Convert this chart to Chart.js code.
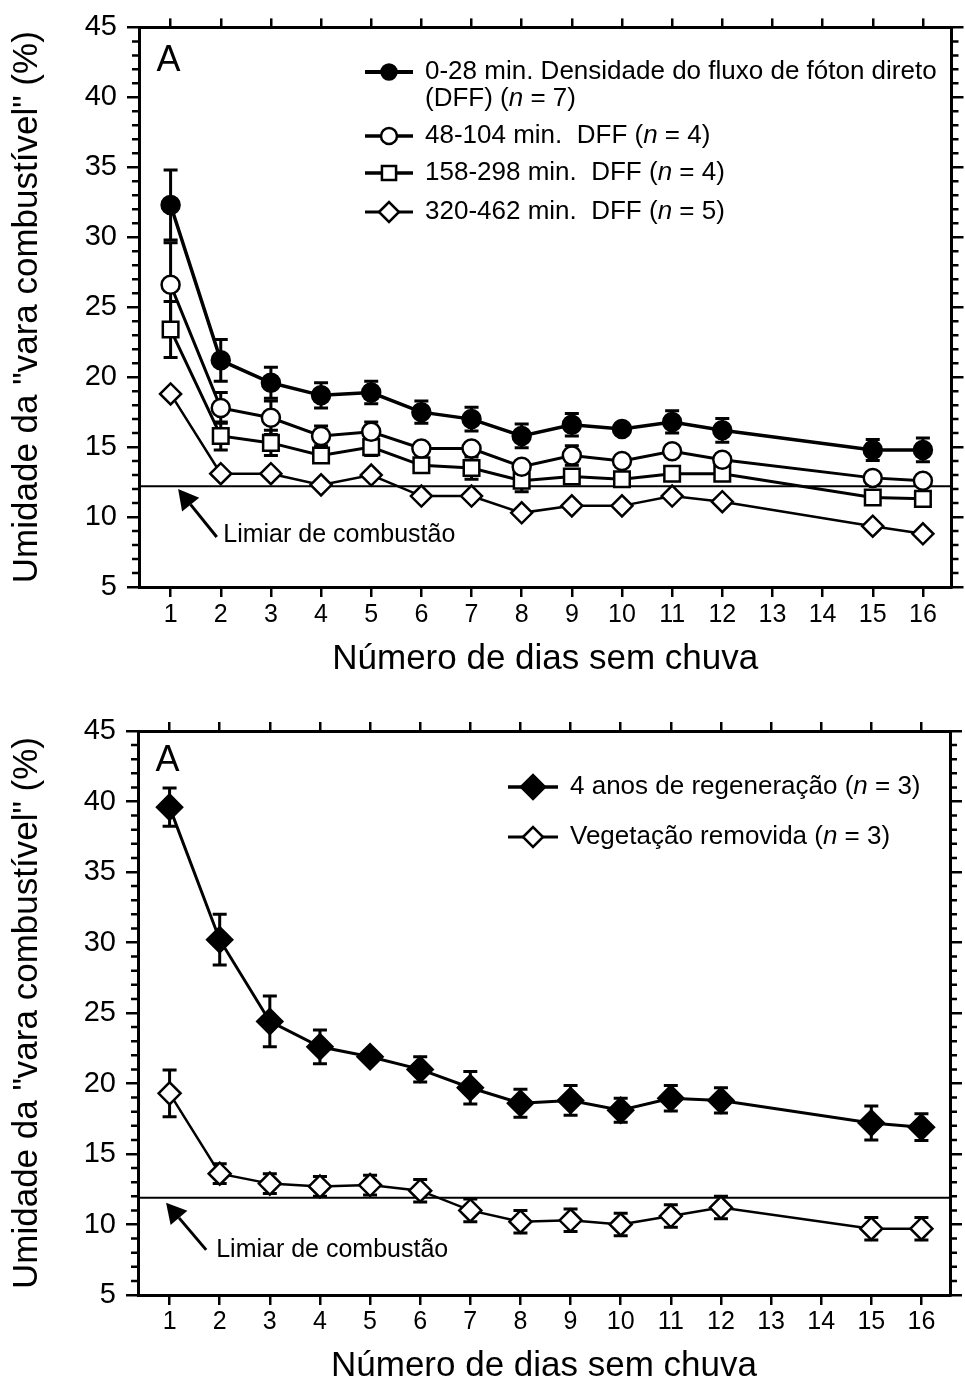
<!DOCTYPE html>
<html>
<head>
<meta charset="utf-8">
<script src="https://cdn.jsdelivr.net/npm/chart.js@4.4.1/dist/chart.umd.min.js"></script>
<style>
  html, body { margin: 0; padding: 0; background: #fff; overflow: hidden; }
  .panel { position: absolute; left: 0; width: 965px; }
  #top { top: 0; height: 690px; }
  #bottom { top: 690px; height: 700px; }
</style>
</head>
<body>
<div class="panel" id="top"><canvas id="chartTop" width="965" height="690"></canvas></div>
<div class="panel" id="bottom"><canvas id="chartBottom" width="965" height="700"></canvas></div>
<script>
// days without rain (x) and tick values
var days = [1, 2, 3, 4, 5, 6, 7, 8, 9, 10, 11, 12, 15, 16];
var xTicks = [1, 2, 3, 4, 5, 6, 7, 8, 9, 10, 11, 12, 13, 14, 15, 16];
var yTicks = [5, 10, 15, 20, 25, 30, 35, 40, 45];
var xMin = 0.37, xMax = 16.57;

// top panel: fuel stick moisture (%) by direct photon flux duration
var dff0to28 = [32.3, 21.2, 19.6, 18.7, 18.9, 17.5, 17.0, 15.8, 16.6, 16.3, 16.8, 16.2, 14.8, 14.8];
var dff0to28Err = [2.5, 1.5, 1.1, 0.9, 0.8, 0.8, 0.85, 0.85, 0.8, 0.3, 0.8, 0.85, 0.75, 0.85];
var dff48to104 = [26.6, 17.8, 17.1, 15.8, 16.1, 14.9, 14.9, 13.6, 14.4, 14.0, 14.7, 14.1, 12.8, 12.6];
var dff48to104Err = [3.0, 1.1, 1.2, 0.7, 0.7, 0.3, 0.3, 0.3, 0.7, 0.3, 0.3, 0.4, 0.3, 0.3];
var dff158to298 = [23.4, 15.8, 15.3, 14.4, 15.0, 13.7, 13.5, 12.6, 12.9, 12.7, 13.1, 13.1, 11.4, 11.3];
var dff158to298Err = [2.0, 1.0, 0.9, 0.4, 0.6, 0.3, 0.8, 0.8, 0.3, 0.3, 0.3, 0.3, 0.3, 0.3];
var dff320to462 = [18.8, 13.1, 13.1, 12.3, 13.0, 11.5, 11.5, 10.3, 10.8, 10.8, 11.5, 11.1, 9.35, 8.8];
var thresholdTop = 12.2;

// bottom panel
var regen4y = [39.6, 30.2, 24.4, 22.6, 21.9, 21.0, 19.7, 18.6, 18.8, 18.1, 18.95, 18.8, 17.2, 16.9];
var regen4yErr = [1.35, 1.8, 1.8, 1.2, 0.4, 0.9, 1.15, 1.0, 1.05, 0.85, 0.9, 0.9, 1.2, 0.95];
var removed = [19.3, 13.6, 12.9, 12.7, 12.8, 12.4, 11.0, 10.2, 10.3, 10.0, 10.6, 11.2, 9.7, 9.7];
var removedErr = [1.65, 0.7, 0.7, 0.7, 0.7, 0.8, 0.8, 0.8, 0.8, 0.8, 0.8, 0.8, 0.8, 0.8];
var thresholdBottom = 11.9;

// legend text, *...* = italic
var legendTop = [
  ['0-28 min. Densidade do fluxo de fóton direto', '(DFF) (*n* = 7)'],
  ['48-104 min.  DFF (*n* = 4)'],
  ['158-298 min.  DFF (*n* = 4)'],
  ['320-462 min.  DFF (*n* = 5)']
];
var legendBottom = [
  ['4 anos de regeneração (*n* = 3)'],
  ['Vegetação removida (*n* = 3)']
];

var yTitle = 'Umidade da "vara combustível" (%)';
var xTitle = 'Número de dias sem chuva';
var thresholdLabel = 'Limiar de combustão';

var black = '#000';
var FONT = '"Liberation Sans", Arial, Helvetica, sans-serif';
Chart.defaults.font.family = FONT;
Chart.defaults.color = black;
Chart.defaults.animation = false;

function points(values) {
  return days.map(function (d, i) { return { x: d, y: values[i] }; });
}

function series(label, values, err, style) {
  var ds = {
    label: label,
    data: points(values),
    errorBars: err,
    borderColor: black,
    pointBorderColor: black,
    pointBackgroundColor: '#fff',
    pointBorderWidth: 2.5,
    borderWidth: 3,
    tension: 0
  };
  for (var k in style) ds[k] = style[k];
  return ds;
}

function thresholdLine(v) {
  return {
    label: 'limiar',
    data: [{ x: xMin, y: v }, { x: xMax, y: v }],
    borderColor: black,
    borderWidth: 2,
    pointRadius: 0
  };
}

function setTicks(values) {
  return function (scale) {
    scale.ticks = values.map(function (v) { return { value: v }; });
  };
}
function fixedSize(w, h) {
  return function (scale) {
    if (w !== null) scale.width = w;
    if (h !== null) scale.height = h;
  };
}

var errorBarPlugin = {
  id: 'errorBars',
  beforeDatasetsDraw: function (chart) {
    var ctx = chart.ctx, xs = chart.scales.x, ys = chart.scales.y;
    ctx.save();
    ctx.strokeStyle = black;
    ctx.lineWidth = 3;
    chart.data.datasets.forEach(function (ds) {
      if (!ds.errorBars) return;
      ds.data.forEach(function (p, i) {
        var e = ds.errorBars[i];
        if (!e) return;
        var px = xs.getPixelForValue(p.x);
        var y0 = ys.getPixelForValue(p.y + e);
        var y1 = ys.getPixelForValue(p.y - e);
        ctx.beginPath();
        ctx.moveTo(px, y0); ctx.lineTo(px, y1);
        ctx.moveTo(px - 7, y0); ctx.lineTo(px + 7, y0);
        ctx.moveTo(px - 7, y1); ctx.lineTo(px + 7, y1);
        ctx.stroke();
      });
    });
    ctx.restore();
  }
};

function drawRichText(ctx, text, x, y, size) {
  var parts = text.split('*');
  parts.forEach(function (part, k) {
    ctx.font = (k % 2 ? 'italic ' : '') + size + 'px ' + FONT;
    ctx.fillText(part, x, y);
    x += ctx.measureText(part).width;
  });
}

var decorPlugin = {
  id: 'decor',
  afterDraw: function (chart, args, o) {
    var ctx = chart.ctx, xs = chart.scales.x, ys = chart.scales.y, area = chart.chartArea;
    ctx.save();
    ctx.strokeStyle = black;
    ctx.fillStyle = black;

    // minor y ticks, left and right
    ctx.lineWidth = 2.5;
    ctx.beginPath();
    for (var v = yTicks[0]; v <= yTicks[yTicks.length - 1]; v++) {
      if (yTicks.indexOf(v) >= 0) continue;
      var py = ys.getPixelForValue(v);
      ctx.moveTo(area.left, py); ctx.lineTo(area.left - 7, py);
      ctx.moveTo(area.right, py); ctx.lineTo(area.right + 7, py);
    }
    ctx.stroke();

    // panel letter
    ctx.font = '36px ' + FONT;
    ctx.textAlign = 'center';
    ctx.textBaseline = 'middle';
    ctx.fillText(o.letter, xs.getPixelForValue(o.letterAt[0]), ys.getPixelForValue(o.letterAt[1]));

    // arrow to the threshold line
    var tx = xs.getPixelForValue(o.arrowTip[0]), ty = ys.getPixelForValue(o.arrowTip[1]);
    var sx = xs.getPixelForValue(o.arrowTail[0]), sy = ys.getPixelForValue(o.arrowTail[1]);
    var ang = Math.atan2(ty - sy, tx - sx);
    var hl = 20, hw = 11;
    var bx = tx - hl * Math.cos(ang), by = ty - hl * Math.sin(ang);
    ctx.lineWidth = 3;
    ctx.beginPath(); ctx.moveTo(sx, sy); ctx.lineTo(bx, by); ctx.stroke();
    ctx.beginPath();
    ctx.moveTo(tx, ty);
    ctx.lineTo(bx + hw * Math.sin(ang), by - hw * Math.cos(ang));
    ctx.lineTo(bx - hw * Math.sin(ang), by + hw * Math.cos(ang));
    ctx.closePath(); ctx.fill();

    ctx.textAlign = 'left';
    ctx.font = '25px ' + FONT;
    ctx.fillText(thresholdLabel, xs.getPixelForValue(o.labelAt[0]), ys.getPixelForValue(o.labelAt[1]));

    // legend
    var L = o.legend;
    L.items.forEach(function (lines, i) {
      var ds = chart.data.datasets[i];
      var y = L.rows[i];
      ctx.strokeStyle = black;
      ctx.lineWidth = ds.borderWidth + 0.5;
      ctx.beginPath(); ctx.moveTo(L.x0, y); ctx.lineTo(L.x1, y); ctx.stroke();
      ctx.fillStyle = ds.pointBackgroundColor;
      ctx.lineWidth = ds.pointBorderWidth;
      Chart.helpers.drawPoint(ctx, {
        pointStyle: ds.pointStyle, radius: L.radius[i], rotation: 0,
        borderWidth: ds.pointBorderWidth
      }, (L.x0 + L.x1) / 2, y);
      ctx.fillStyle = black;
      lines.forEach(function (line, j) {
        drawRichText(ctx, line, L.textX, y + j * L.lineGap, L.size);
      });
    });
    ctx.restore();
  }
};

function makeChart(id, datasets, P) {
  var tickGrid = function (len) {
    return { drawOnChartArea: false, tickLength: len, lineWidth: 2.5, color: black };
  };
  var border = { width: 3, color: black };
  return new Chart(document.getElementById(id).getContext('2d'), {
    type: 'line',
    data: { datasets: datasets },
    plugins: [errorBarPlugin, decorPlugin],
    options: {
      responsive: false,
      layout: { padding: 0 },
      plugins: {
        legend: { display: false },
        tooltip: { enabled: false },
        decor: P.decor
      },
      scales: {
        x: {
          type: 'linear', position: 'bottom', min: xMin, max: xMax,
          afterBuildTicks: setTicks(xTicks), afterFit: fixedSize(null, P.bottom),
          grid: tickGrid(10), border: border,
          ticks: { font: { size: 25 }, padding: P.xTickPad, color: black, autoSkip: false, maxRotation: 0 },
          title: { display: true, text: xTitle, color: black, font: { size: 35 }, padding: { top: 0, bottom: P.xTitlePad } }
        },
        x2: {
          type: 'linear', position: 'top', min: xMin, max: xMax,
          afterBuildTicks: setTicks(xTicks), afterFit: fixedSize(null, P.top),
          grid: tickGrid(9), border: border, ticks: { display: false }
        },
        y: {
          type: 'linear', position: 'left', min: 5, max: 45,
          afterBuildTicks: setTicks(yTicks), afterFit: fixedSize(P.left, null),
          grid: tickGrid(12), border: border,
          ticks: { font: { size: 29 }, padding: 10, color: black },
          title: { display: true, text: yTitle, color: black, font: { size: 35 }, padding: { top: 6, bottom: 0 } }
        },
        y2: {
          type: 'linear', position: 'right', min: 5, max: 45,
          afterBuildTicks: setTicks(yTicks), afterFit: fixedSize(P.right, null),
          grid: tickGrid(12), border: border, ticks: { display: false }
        }
      }
    }
  });
}

makeChart('chartTop', [
  series('0-28 min', dff0to28, dff0to28Err, {
    pointStyle: 'circle', pointRadius: 9, pointBackgroundColor: black, borderWidth: 3.5
  }),
  series('48-104 min', dff48to104, dff48to104Err, { pointStyle: 'circle', pointRadius: 9 }),
  series('158-298 min', dff158to298, dff158to298Err, { pointStyle: 'rect', pointRadius: 11 }),
  series('320-462 min', dff320to462, null, { pointStyle: 'rectRot', pointRadius: 10.5, borderWidth: 2.5 }),
  thresholdLine(thresholdTop)
], {
  left: 139, right: 7, top: 23, bottom: 103, xTickPad: 3, xTitlePad: 10,
  decor: {
    letter: 'A', letterAt: [0.96, 42.6],
    arrowTip: [1.15, 12.0], arrowTail: [1.92, 8.57], labelAt: [2.05, 8.7],
    legend: {
      items: legendTop, x0: 365, x1: 413, textX: 425, rows: [72, 136, 173, 212],
      lineGap: 27, size: 26, radius: [7.5, 8, 10, 10]
    }
  }
});

makeChart('chartBottom', [
  series('4 anos de regeneração', regen4y, regen4yErr, {
    pointStyle: 'rectRot', pointRadius: 12.5, pointBackgroundColor: black
  }),
  series('Vegetação removida', removed, removedErr, { pointStyle: 'rectRot', pointRadius: 11, borderWidth: 2.5 }),
  thresholdLine(thresholdBottom)
], {
  left: 138, right: 7, top: 41, bottom: 95, xTickPad: 2, xTitlePad: 3,
  decor: {
    letter: 'A', letterAt: [0.96, 42.9],
    arrowTip: [0.93, 11.55], arrowTail: [1.73, 8.2], labelAt: [1.93, 8.2],
    legend: {
      items: legendBottom, x0: 508, x1: 558, textX: 570, rows: [97, 147],
      lineGap: 27, size: 26, radius: [12, 10]
    }
  }
});
</script>
</body>
</html>
